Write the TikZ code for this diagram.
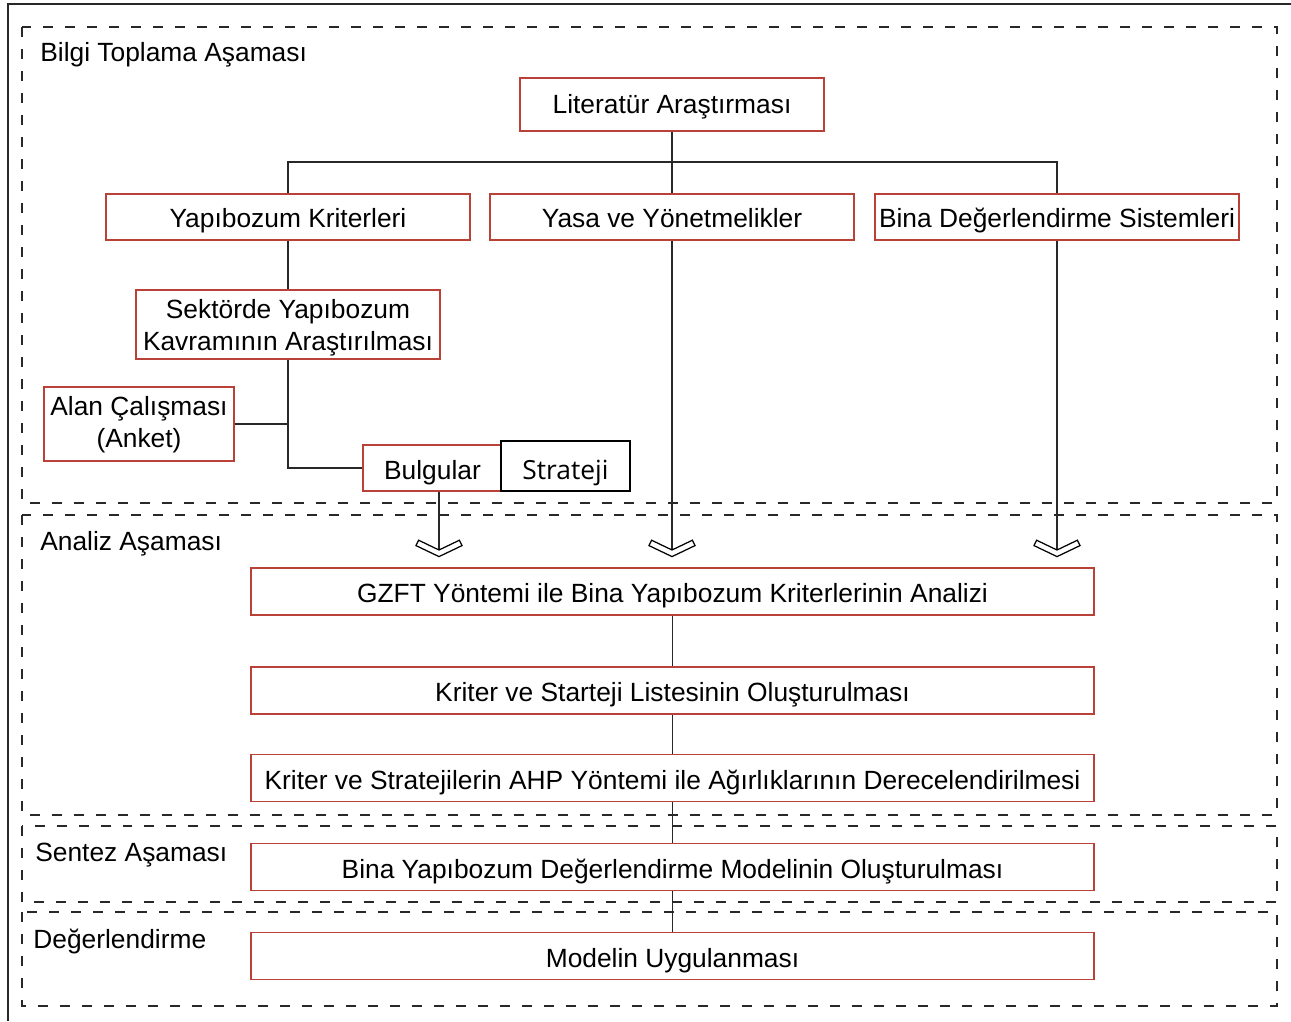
\documentclass[tikz,border=0pt]{standalone}
\usepackage{fontspec}
\setmainfont{Liberation Sans}
\newfontfamily\stratfont{Open Sans}
\usepackage{tikz}
\usetikzlibrary{
  calc,%
  positioning
}
\definecolor{boxred}{RGB}{185,65,55}
\definecolor{linegray}{RGB}{40,40,40}
\tikzset{font=\fontsize{15}{18}\selectfont}
\tikzset{
  box/.style={draw=boxred, fill=white, line width=0.7pt, inner sep=0pt, align=center},
  widebox/.style={box, text height=14.4pt, text depth=1.5pt, minimum width=16.86cm, minimum height=0.94cm},
  midbox/.style={box, text height=13.3pt, text depth=1.5pt, minimum width=7.28cm, minimum height=0.92cm},
  phase/.style={dash pattern=on 0.2cm off 0.24cm, line width=0.7pt, color=linegray},
  phaselabel/.style={anchor=base west, inner sep=0pt},
  link/.style={line width=0.7pt, color=linegray},
  chevron/.pic={
    \draw[line width=0.7pt, fill=white, line join=miter]
      (-23,-4.4) -- (0,6.6) -- (23,-4.4) -- (20.4,-9.8) -- (0,0) -- (-20.4,-9.8) -- cycle;
  }
}

\begin{document}
\begin{tikzpicture}[x=0.02cm, y=-0.02cm]
  \useasboundingbox (0,0) rectangle (1291,1021);
  % outer frame (cropped)
  \draw[line width=1.1pt, color=linegray] (8,1021) -- (8,4) -- (1291,4);

  % phase regions
  \draw[phase] (22,27) rectangle (1277,503);
  \draw[phase] (22,515) rectangle (1277,815);
  \draw[phase] (22,826) rectangle (1277,902);
  \draw[phase] (22,912) rectangle (1277,1006);
  \node[phaselabel] (lblBilgi) at (40,61.5) {Bilgi Toplama Aşaması};
  \node[phaselabel] (lblAnaliz) at (40,550.5) {Analiz Aşaması};
  \node[phaselabel] (lblSentez) at (35,861.5) {Sentez Aşaması};
  \node[phaselabel] (lblDeger) at (33,948.5) {Değerlendirme};

  % information gathering
  \node[box, text height=12.1pt, text depth=1.5pt, minimum width=6.08cm, minimum height=1.06cm] (lit) at (672,104.5) {Literatür Araştırması};
  \node[midbox] (kriter) at (288,217) {Yapıbozum Kriterleri};
  \node[midbox] (yasa) at (672,217) {Yasa ve Yönetmelikler};
  \node[midbox] (sistem) at (1057,217) {Bina Değerlendirme Sistemleri};
  \node[box, text height=31.6pt, text depth=2pt, minimum width=6.08cm, minimum height=1.38cm] (sektor) at (288,324.5)
    {Sektörde Yapıbozum\\Kavramının Araştırılması};
  \node[box, text height=28.6pt, text depth=2pt, minimum width=3.8cm, minimum height=1.48cm] (alan) at (139,424)
    {Alan Çalışması\\(Anket)};
  \node[box, text height=14.5pt, text depth=1.7pt, minimum width=2.78cm, minimum height=0.92cm] (bulgu) at (432.5,468) {Bulgular};
  \node[draw=black, fill=white, line width=0.7pt, inner sep=0pt, text height=17pt, text depth=1.8pt,
    minimum width=2.58cm, minimum height=1.0cm, font=\stratfont\fontsize{15}{18}\selectfont]
    (strat) at (565.5,466) {Strateji};

  \coordinate (split) at (672,162);
  \draw[link] (lit) -- (split);
  \draw[link] (kriter.north) |- (split) -| (sistem.north);
  \draw[link] (split) -- (yasa.north);
  \draw[link] (kriter) -- (sektor);
  \draw[link] (sektor.south) |- (bulgu.west);
  \draw[link] (alan.east) -- (alan.east -| sektor.south);

  % arrows into analysis
  \coordinate (tipA) at (439,550);
  \coordinate (tipB) at (672,550);
  \coordinate (tipC) at (1057,550);
  \draw[link] (tipA |- bulgu.south) -- (tipA);
  \draw[link] (yasa.south) -- (tipB);
  \draw[link] (sistem.south) -- (tipC);
  \pic at (tipA) {chevron};
  \pic at (tipB) {chevron};
  \pic at (tipC) {chevron};

  % analysis, synthesis, evaluation
  \node[widebox] (gzft) at (672.5,591.5) {GZFT Yöntemi ile Bina Yapıbozum Kriterlerinin Analizi};
  \node[widebox] (liste) at (672.5,690.5) {Kriter ve Starteji Listesinin Oluşturulması};
  \node[widebox] (ahp) at (672.5,778) {Kriter ve Stratejilerin AHP Yöntemi ile Ağırlıklarının Derecelendirilmesi};
  \node[widebox] (model) at (672.5,867) {Bina Yapıbozum Değerlendirme Modelinin Oluşturulması};
  \node[widebox] (uygula) at (672.5,956) {Modelin Uygulanması};
  \draw[link] (gzft) -- (liste);
  \draw[link] (liste) -- (ahp);
  \draw[link] (ahp) -- (model);
  \draw[link] (model) -- (uygula);
\end{tikzpicture}
\end{document}
